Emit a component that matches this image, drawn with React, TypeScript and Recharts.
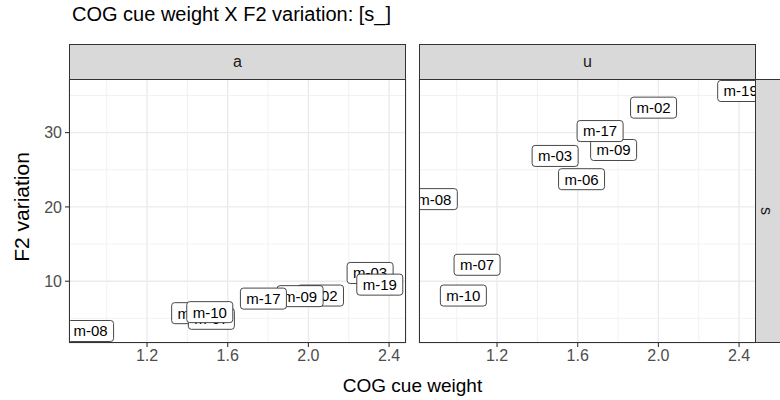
import { CartesianGrid, ReferenceLine, Scatter, ScatterChart, XAxis, YAxis } from 'recharts'

// speakers, drawn in this order (later labels sit on top)
const speakers = ['m-02', 'm-03', 'm-06', 'm-07', 'm-08', 'm-09', 'm-10', 'm-17', 'm-19']

// vowel "a"
const cogA = [2.06, 2.306, 1.436, 1.519, 0.92, 1.959, 1.511, 1.777, 2.354]
const f2A = [8.07, 11.11, 5.7, 4.94, 3.3, 7.99, 5.84, 7.66, 9.54]

// vowel "u"
const cogU = [1.976, 1.488, 1.619, 1.101, 0.889, 1.778, 1.033, 1.711, 2.408]
const f2U = [33.36, 26.86, 23.73, 12.21, 21.05, 27.66, 8.07, 30.21, 35.6]

const facetLabels = ['a', 'u']
const rowLabel = 's'
const xTicks = [1.2, 1.6, 2.0, 2.4]
const xMinor = [1.0, 1.4, 1.8, 2.2]
const yTicks = [10, 20, 30]
const yMinor = [5, 15, 25, 35]

const FONT = '"Liberation Sans", Arial, Helvetica, sans-serif'
const W = 780
const H = 400
const PANEL_TOP = 79
const PANEL_BOTTOM = 343
const STRIP = 35
const panelX = [
  [69, 406],
  [419, 756],
]

// ggplot style 5% expansion of the data range
function expand(values: number[]): [number, number] {
  const lo = Math.min(...values)
  const hi = Math.max(...values)
  const pad = (hi - lo) * 0.05
  return [lo - pad, hi + pad]
}

const xDomain = expand([...cogA, ...cogU])
const yDomain = expand([...f2A, ...f2U])

function toRows(xs: number[], ys: number[]) {
  return speakers.map((speaker, i) => ({ speaker, cog: xs[i], f2: ys[i] }))
}

const panels = [toRows(cogA, f2A), toRows(cogU, f2U)]

function SpeakerLabel(props: any) {
  const { cx, cy, payload } = props
  if (cx == null || cy == null) return null
  return (
    <g>
      <rect x={cx - 23} y={cy - 10.5} width={46} height={21} rx={3} fill="#fff" stroke="#333" strokeWidth={0.9} />
      <text x={cx} y={cy} dy="0.36em" textAnchor="middle" fontSize={15} fontFamily={FONT} fill="#000">
        {payload.speaker}
      </text>
    </g>
  )
}

function Panel({ index }: { index: number }) {
  const [px0, px1] = panelX[index]
  const showY = index === 0
  const chartLeft = showY ? 0 : px0 - 10
  const chartWidth = showY ? px1 + 14 : W - chartLeft + 20
  const yAxisWidth = 50
  const xAxisHeight = 30
  const margin = {
    top: PANEL_TOP,
    bottom: H - PANEL_BOTTOM - xAxisHeight,
    left: showY ? px0 - yAxisWidth : px0 - chartLeft,
    right: chartLeft + chartWidth - px1,
  }
  const tickStyle = { fontSize: 16, fill: '#4D4D4D', fontFamily: FONT }

  return (
    <div style={{ position: 'absolute', left: chartLeft, top: 0 }}>
      <ScatterChart width={chartWidth} height={H} margin={margin}>
        <CartesianGrid stroke="#EBEBEB" strokeWidth={1.4} />
        {xMinor.map((v) => (
          <ReferenceLine key={`xm${v}`} x={v} stroke="#EFEFEF" strokeWidth={0.8} />
        ))}
        {yMinor.map((v) => (
          <ReferenceLine key={`ym${v}`} y={v} stroke="#EFEFEF" strokeWidth={0.8} />
        ))}
        <XAxis
          type="number"
          dataKey="cog"
          domain={xDomain}
          ticks={xTicks}
          allowDataOverflow
          height={xAxisHeight}
          axisLine={false}
          tickLine={{ stroke: '#333', strokeWidth: 1.1 }}
          tickSize={4}
          tickMargin={3}
          tick={tickStyle}
          tickFormatter={(v: number) => v.toFixed(1)}
          interval={0}
        />
        <YAxis
          type="number"
          dataKey="f2"
          domain={yDomain}
          ticks={yTicks}
          allowDataOverflow
          hide={!showY}
          width={yAxisWidth}
          axisLine={false}
          tickLine={{ stroke: '#333', strokeWidth: 1.1 }}
          tickSize={4}
          tickMargin={3}
          tick={tickStyle}
          interval={0}
        />
        <Scatter data={panels[index]} shape={SpeakerLabel} isAnimationActive={false} />
      </ScatterChart>
    </div>
  )
}

export default function App() {
  const stripStyle = {
    position: 'absolute' as const,
    background: '#D9D9D9',
    border: '1.3px solid #333',
    boxSizing: 'border-box' as const,
    display: 'flex',
    alignItems: 'center',
    justifyContent: 'center',
    fontSize: 16,
    color: '#1A1A1A',
  }

  return (
    <div
      style={{
        position: 'absolute',
        left: 0,
        top: 0,
        width: W,
        height: H,
        overflow: 'hidden',
        background: '#fff',
        fontFamily: FONT,
      }}
    >
      <div style={{ position: 'absolute', left: 72, top: 3, fontSize: 20, color: '#000', whiteSpace: 'nowrap' }}>
        COG cue weight X F2 variation: [s_]
      </div>

      {panelX.map((_, i) => (
        <Panel key={i} index={i} />
      ))}

      {panelX.map(([x0, x1], i) => (
        <div key={`border${i}`}>
          <div
            style={{
              position: 'absolute',
              left: x0,
              top: PANEL_TOP,
              width: x1 - x0,
              height: PANEL_BOTTOM - PANEL_TOP,
              border: '1.3px solid #333',
              boxSizing: 'border-box',
              pointerEvents: 'none',
            }}
          />
          <div style={{ ...stripStyle, left: x0, top: PANEL_TOP - STRIP, width: x1 - x0, height: STRIP + 1 }}>
            {facetLabels[i]}
          </div>
        </div>
      ))}

      <div
        style={{
          ...stripStyle,
          left: panelX[1][1] - 1,
          top: PANEL_TOP,
          width: STRIP,
          height: PANEL_BOTTOM - PANEL_TOP,
          justifyContent: 'flex-start',
          paddingLeft: 6,
        }}
      >
        <span style={{ display: 'inline-block', transform: 'rotate(90deg)' }}>{rowLabel}</span>
      </div>

      <div
        style={{
          position: 'absolute',
          left: 22,
          top: (PANEL_TOP + PANEL_BOTTOM) / 2 - 4,
          transform: 'translate(-50%, -50%) rotate(-90deg)',
          fontSize: 21,
          color: '#000',
          whiteSpace: 'nowrap',
        }}
      >
        F2 variation
      </div>

      <div
        style={{
          position: 'absolute',
          left: (panelX[0][0] + panelX[1][1]) / 2,
          top: 386,
          transform: 'translate(-50%, -50%)',
          fontSize: 19,
          color: '#000',
          whiteSpace: 'nowrap',
        }}
      >
        COG cue weight
      </div>
    </div>
  )
}
